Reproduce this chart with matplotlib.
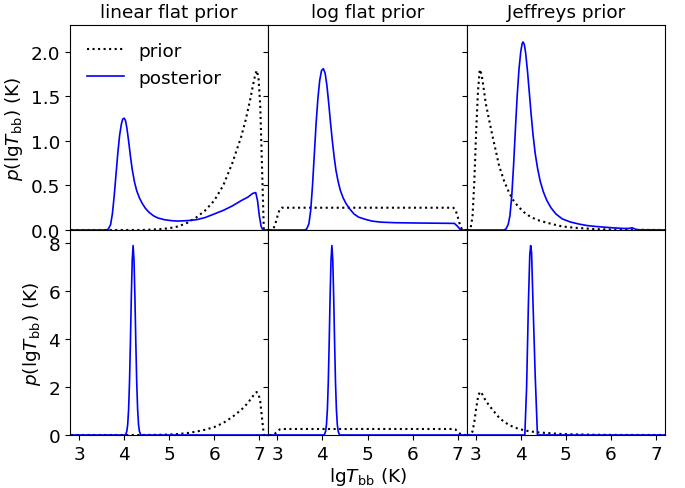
import matplotlib
matplotlib.use('Agg')
import matplotlib.pyplot as plt

plt.rcParams['font.size'] = 13.3

titles = ['linear flat prior', 'log flat prior', 'Jeffreys prior']

# priors (same in both rows)
lin_prior_x = [2.7, 4.4, 4.8, 5.0, 5.2, 5.4, 5.6, 5.8, 6.0, 6.2, 6.4, 6.6, 6.7, 6.8,
               6.85, 6.9, 6.94, 6.98, 7.02, 7.06, 7.1, 7.3]
lin_prior_y = [0, 0, 0.01, 0.02, 0.04, 0.08, 0.14, 0.22, 0.33, 0.5, 0.75, 1.05, 1.24,
               1.47, 1.6, 1.72, 1.79, 1.72, 1.4, 0.7, 0, 0]

log_prior_x = [2.7, 2.9, 2.95, 3.0, 3.05, 3.1, 6.9, 6.95, 7.0, 7.05, 7.1, 7.3]
log_prior_y = [0, 0, 0.06, 0.15, 0.23, 0.25, 0.25, 0.23, 0.15, 0.06, 0, 0]

jef_prior_x = [2.7, 2.88, 2.93, 2.97, 3.01, 3.05, 3.09, 3.13, 3.18, 3.22, 3.3, 3.37,
               3.45, 3.52, 3.63, 3.74, 3.85, 3.96, 4.07, 4.18, 4.35, 4.55, 4.75, 4.92,
               5.2, 5.66, 6.2, 7.3]
jef_prior_y = [0, 0, 0.15, 0.55, 1.1, 1.55, 1.80, 1.75, 1.58, 1.43, 1.23, 1.06, 0.88,
               0.72, 0.55, 0.42, 0.32, 0.255, 0.2, 0.16, 0.115, 0.086, 0.06, 0.04,
               0.025, 0.01, 0.003, 0]

# posteriors, top row
lin_post1_x = [2.7, 3.6, 3.65, 3.7, 3.74, 3.78, 3.82, 3.86, 3.9, 3.94, 3.97, 4.0,
               4.03, 4.06, 4.1, 4.14, 4.18, 4.23, 4.28, 4.34, 4.4, 4.47, 4.55, 4.65,
               4.75, 4.9, 5.05, 5.2, 5.4, 5.6, 5.8, 6.0, 6.2, 6.4, 6.6, 6.75, 6.85,
               6.92, 6.96, 7.0, 7.04, 7.08, 7.3]
lin_post1_y = [0, 0, 0.01, 0.06, 0.18, 0.38, 0.62, 0.86, 1.06, 1.19, 1.245, 1.255,
               1.23, 1.15, 1.0, 0.83, 0.68, 0.54, 0.44, 0.36, 0.3, 0.245, 0.2, 0.16,
               0.135, 0.115, 0.105, 0.1, 0.105, 0.115, 0.14, 0.18, 0.22, 0.27, 0.33,
               0.37, 0.41, 0.42, 0.33, 0.16, 0.04, 0, 0]

log_post1_x = [2.7, 3.6, 3.65, 3.7, 3.74, 3.78, 3.82, 3.86, 3.9, 3.94, 3.98, 4.02,
               4.06, 4.1, 4.14, 4.18, 4.22, 4.26, 4.3, 4.35, 4.4, 4.46, 4.52, 4.6,
               4.7, 4.8, 4.95, 5.1, 5.3, 5.6, 6.0, 6.4, 6.8, 6.93, 7.0, 7.05, 7.1,
               7.3]
log_post1_y = [0, 0, 0.01, 0.07, 0.22, 0.5, 0.85, 1.2, 1.48, 1.68, 1.79, 1.81, 1.76,
               1.62, 1.42, 1.2, 1.0, 0.82, 0.67, 0.54, 0.44, 0.36, 0.3, 0.24, 0.18,
               0.145, 0.12, 0.1, 0.088, 0.082, 0.079, 0.077, 0.075, 0.074, 0.04,
               0.01, 0, 0]

jef_post1_x = [2.7, 3.62, 3.67, 3.72, 3.76, 3.8, 3.84, 3.88, 3.92, 3.96, 4.0, 4.03,
               4.05, 4.08, 4.11, 4.15, 4.19, 4.23, 4.27, 4.32, 4.37, 4.43, 4.5, 4.58,
               4.67, 4.78, 4.92, 5.1, 5.29, 5.47, 5.66, 6.03, 6.3, 6.4, 6.47, 6.52,
               6.58, 7.3]
jef_post1_y = [0, 0, 0.01, 0.06, 0.16, 0.38, 0.72, 1.12, 1.5, 1.8, 2.0, 2.09, 2.11,
               2.08, 1.98, 1.78, 1.54, 1.3, 1.08, 0.86, 0.7, 0.55, 0.43, 0.33, 0.25,
               0.18, 0.125, 0.09, 0.067, 0.05, 0.04, 0.025, 0.017, 0.018, 0.025,
               0.015, 0.003, 0]

# posteriors, bottom row
lin_post2_x = [2.7, 4.03, 4.06, 4.08, 4.1, 4.12, 4.14, 4.16, 4.18, 4.2, 4.22, 4.24,
               4.26, 4.28, 4.3, 4.32, 4.34, 4.37, 7.3]
lin_post2_y = [0, 0, 0.15, 0.44, 1.07, 2.2, 3.85, 5.73, 7.27, 7.89, 7.27, 5.73,
               3.85, 2.2, 1.07, 0.44, 0.15, 0, 0]

log_post2_x = [2.7, 4.04, 4.07, 4.09, 4.11, 4.13, 4.15, 4.17, 4.19, 4.21, 4.23,
               4.25, 4.27, 4.29, 4.31, 4.33, 4.35, 4.38, 7.3]
log_post2_y = [0, 0, 0.15, 0.44, 1.07, 2.2, 3.85, 5.73, 7.27, 7.89, 7.27, 5.73,
               3.85, 2.2, 1.07, 0.44, 0.15, 0, 0]

jef_post2_x = [2.7, 4.09, 4.13, 4.17, 4.2, 4.22, 4.24, 4.27, 4.32, 4.37, 7.3]
jef_post2_y = [0, 0, 2.0, 5.5, 7.5, 7.89, 7.6, 5.6, 2.5, 0, 0]

priors = [(lin_prior_x, lin_prior_y), (log_prior_x, log_prior_y),
          (jef_prior_x, jef_prior_y)]
posts = [
    [(lin_post1_x, lin_post1_y), (log_post1_x, log_post1_y), (jef_post1_x, jef_post1_y)],
    [(lin_post2_x, lin_post2_y), (log_post2_x, log_post2_y), (jef_post2_x, jef_post2_y)],
]

fig, axes = plt.subplots(2, 3, sharex=True, sharey='row', figsize=(6.85, 4.89), dpi=100)
fig.subplots_adjust(left=0.1022, right=0.9708, top=0.9468, bottom=0.1084,
                    wspace=0, hspace=0)

for row in range(2):
    for col in range(3):
        ax = axes[row, col]
        ax.plot(priors[col][0], priors[col][1], ':', color='k', lw=1.5, label='prior')
        ax.plot(posts[row][col][0], posts[row][col][1], '-', color='b', lw=1.2,
                label='posterior')

for col in range(3):
    axes[0, col].set_title(titles[col], fontsize=13.3)

axes[0, 0].set_xlim(2.8, 7.2)
axes[0, 0].set_xticks([3, 4, 5, 6, 7])
axes[0, 0].set_ylim(0, 2.3)
axes[0, 0].set_yticks([0.0, 0.5, 1.0, 1.5, 2.0])
axes[1, 0].set_ylim(0, 8.54)
axes[1, 0].set_yticks([0, 2, 4, 6, 8])

ylab = r'$p(\mathrm{lg}T_\mathrm{bb})$ (K)'
axes[0, 0].set_ylabel(ylab)
axes[1, 0].set_ylabel(ylab)
axes[1, 1].set_xlabel(r'$\mathrm{lg}T_\mathrm{bb}$ (K)', labelpad=2)

axes[0, 0].legend(loc='upper left', frameon=False)

fig.savefig('out.png', dpi=100)
